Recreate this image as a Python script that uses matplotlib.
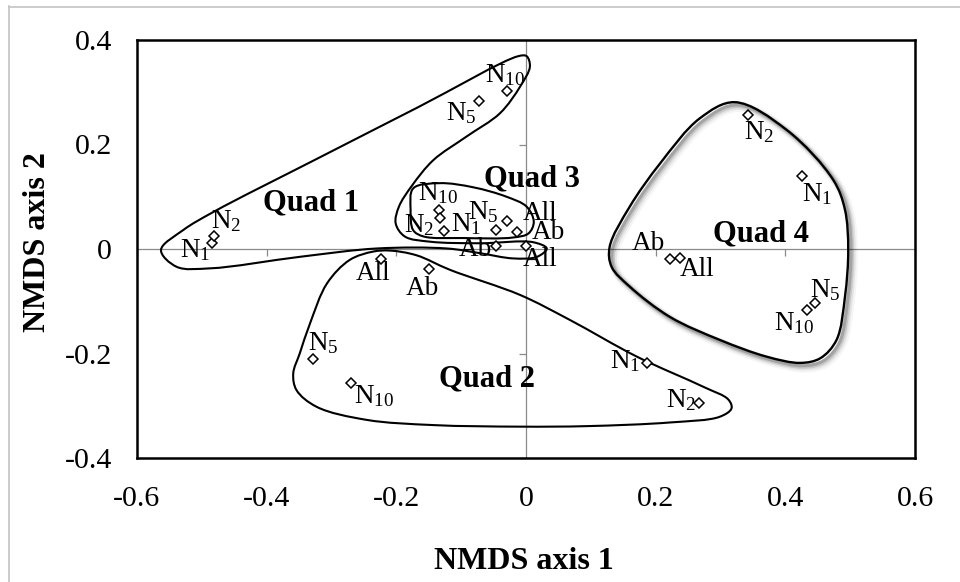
import numpy as np
import matplotlib
matplotlib.use("Agg")
import matplotlib.pyplot as plt
from matplotlib.path import Path
from matplotlib.patches import PathPatch
from matplotlib.lines import Line2D
import matplotlib.transforms as mtransforms

plt.rcParams['font.family'] = ['Liberation Serif', 'DejaVu Serif']
plt.rcParams['mathtext.fontset'] = 'custom'
plt.rcParams['mathtext.rm'] = 'Liberation Serif'
plt.rcParams['mathtext.it'] = 'Liberation Serif:italic'
plt.rcParams['mathtext.bf'] = 'Liberation Serif:bold'

# ---------------- data ----------------
x_ticks = [-0.6, -0.4, -0.2, 0.0, 0.2, 0.4, 0.6]
x_tick_labels = ['-0.6', '-0.4', '-0.2', '0', '0.2', '0.4', '0.6']
y_ticks = [-0.4, -0.2, 0.0, 0.2, 0.4]
y_tick_labels = ['-0.4', '-0.2', '0', '0.2', '0.4']

# point names and NMDS scores per quadrat
quad1_names = ['N1', 'N2', 'N5', 'N10', 'Ab', 'All']
quad1_x = [-0.484, -0.481, -0.073, -0.029, -0.047, 0.000]
quad1_y = [0.012, 0.024, 0.283, 0.302, 0.006, 0.006]

quad3_names = ['N10', 'N2', 'N1', 'N5', 'All', 'Ab']
quad3_x = [-0.134, -0.132, -0.126, -0.047, -0.029, -0.014]
quad3_y = [0.075, 0.059, 0.034, 0.036, 0.054, 0.033]

quad2_names = ['All', 'Ab', 'N5', 'N10', 'N1', 'N2']
quad2_x = [-0.224, -0.149, -0.328, -0.270, 0.186, 0.267]
quad2_y = [-0.020, -0.039, -0.211, -0.257, -0.219, -0.294]

quad4_names = ['N2', 'N1', 'Ab', 'All', 'N5', 'N10']
quad4_x = [0.343, 0.426, 0.222, 0.237, 0.446, 0.433]
quad4_y = [0.257, 0.140, -0.020, -0.018, -0.103, -0.117]

# group titles
group_titles = ['Quad 1', 'Quad 2', 'Quad 3', 'Quad 4']
group_title_x = [-0.331, -0.060, 0.009, 0.362]
group_title_y = [0.089, -0.248, 0.134, 0.029]

# hand-drawn enclosing outlines (control points, data units)
quad1_outline_x = [-0.563, -0.529, -0.482, -0.325, -0.167, -0.012, 0.001, 0.006, -0.009,
                   -0.040, -0.092, -0.143, -0.176, -0.196, -0.201, -0.187, -0.148, -0.071,
                   0.011, 0.032, 0.017, -0.020, -0.071, -0.122, -0.230, -0.349, -0.487, -0.539]
quad1_outline_y = [-0.002, 0.036, 0.071, 0.171, 0.271, 0.369, 0.369, 0.349, 0.311,
                   0.260, 0.215, 0.170, 0.121, 0.081, 0.049, 0.024, 0.014, 0.011,
                   0.013, 0.001, -0.015, -0.018, -0.008, 0.001, 0.001, -0.015, -0.037, -0.034]

quad3_outline_x = [-0.174, -0.133, -0.081, -0.030, 0.001, 0.012, 0.004, -0.020, -0.097,
                   -0.158, -0.174, -0.178]
quad3_outline_y = [0.116, 0.126, 0.118, 0.100, 0.081, 0.052, 0.030, 0.022, 0.021,
                   0.024, 0.036, 0.075]

quad2_outline_x = [-0.236, -0.210, -0.169, -0.117, -0.009, 0.068, 0.171, 0.274, 0.312, 0.317,
                   0.299, 0.222, 0.094, -0.009, -0.143, -0.246, -0.323, -0.354, -0.359,
                   -0.349, -0.333, -0.307, -0.272]
quad2_outline_y = [-0.005, -0.003, -0.012, -0.040, -0.088, -0.136, -0.206, -0.264, -0.288, -0.305,
                   -0.321, -0.332, -0.339, -0.340, -0.337, -0.327, -0.302, -0.270, -0.238,
                   -0.200, -0.142, -0.066, -0.021]

quad4_outline_x = [0.322, 0.402, 0.474, 0.492, 0.497, 0.492, 0.479, 0.454, 0.423, 0.371,
                   0.299, 0.222, 0.160, 0.132, 0.129, 0.160, 0.207, 0.268]
quad4_outline_y = [0.281, 0.228, 0.132, 0.075, -0.002, -0.091, -0.174, -0.209, -0.218, -0.206,
                   -0.174, -0.130, -0.072, -0.034, 0.004, 0.081, 0.164, 0.250]

# label offsets (pixels: right, down) -- layout only
quad1_label_off = [(-17, 7), (12, -15), (-17, 12), (-2, -16), (-20, 4), (14, 14)]
quad3_label_off = [(-1, -17), (-21, 7), (22, -7), (-12, -18), (33, -7), (31, 1)]
quad2_label_off = [(-8, 14), (-7, 19), (10, -16), (23, 13), (-21, -2), (-18, -2)]
quad4_label_off = [(11, 17), (15, 18), (-22, -16), (17, 11), (10, -13), (-13, 13)]

# ---------------- figure ----------------
W, H = 960, 582
fig = plt.figure(figsize=(W / 100, H / 100), dpi=100)
ax = fig.add_axes([137 / W, 1 - 458 / H, (915 - 137) / W, (458 - 40) / H])
ax.set_xlim(-0.6, 0.6)
ax.set_ylim(-0.4, 0.4)

# outer chart border (light gray)
fig.add_artist(Line2D([8.5 / W, 8.5 / W], [0, 1 - 6 / H], color='#c3c3c3', lw=1.2,
                      transform=fig.transFigure))
fig.add_artist(Line2D([8.5 / W, 1], [1 - 6.5 / H, 1 - 6.5 / H], color='#c3c3c3', lw=1.2,
                      transform=fig.transFigure))

for s in ax.spines.values():
    s.set_linewidth(1.8)
    s.set_color('black')

ax.set_xticks(x_ticks)
ax.set_xticklabels(x_tick_labels, fontsize=21.5)
ax.set_yticks(y_ticks)
ax.set_yticklabels(y_tick_labels, fontsize=21.5)
ax.tick_params(axis='both', length=0)
ax.tick_params(axis='x', pad=20)
ax.tick_params(axis='y', pad=18)

# zero axis lines with tick marks
zc = '#8a8a8a'
ax.axhline(0, color=zc, lw=0.9, zorder=1)
ax.axvline(0, color=zc, lw=0.9, zorder=1)
ax.plot(x_ticks, [0] * len(x_ticks), ls='none', marker=3, ms=5, mew=0.9, color=zc, zorder=1,
        clip_on=False)
ax.plot([0] * len(y_ticks), y_ticks, ls='none', marker=0, ms=5, mew=0.9, color=zc, zorder=1,
        clip_on=False)

# pixel scale of the axes (for isotropic spline parameterisation)
SX = (915 - 137) / 1.2
SY = (458 - 40) / 0.8


def closed_bezier_path(xs, ys, alpha=0.5):
    pts = np.column_stack([xs, ys]).astype(float)
    sc = np.array([SX, SY])
    P = pts * sc
    n = len(P)
    verts = [pts[0]]
    codes = [Path.MOVETO]
    for i in range(n):
        p0, p1, p2, p3 = P[(i - 1) % n], P[i], P[(i + 1) % n], P[(i + 2) % n]
        d01 = max(np.linalg.norm(p1 - p0) ** alpha, 1e-6)
        d12 = max(np.linalg.norm(p2 - p1) ** alpha, 1e-6)
        d23 = max(np.linalg.norm(p3 - p2) ** alpha, 1e-6)
        t0, t1 = 0.0, d01
        t2 = t1 + d12
        t3 = t2 + d23
        m1 = (t2 - t1) * ((p1 - p0) / (t1 - t0) - (p2 - p0) / (t2 - t0) + (p2 - p1) / (t2 - t1))
        m2 = (t2 - t1) * ((p2 - p1) / (t2 - t1) - (p3 - p1) / (t3 - t1) + (p3 - p2) / (t3 - t2))
        c1 = (p1 + m1 / 3.0) / sc
        c2 = (p2 - m2 / 3.0) / sc
        verts += [c1, c2, p2 / sc]
        codes += [Path.CURVE4, Path.CURVE4, Path.CURVE4]
    return Path(np.array(verts), codes)


outlines = [(quad1_outline_x, quad1_outline_y, False),
            (quad3_outline_x, quad3_outline_y, False),
            (quad2_outline_x, quad2_outline_y, False),
            (quad4_outline_x, quad4_outline_y, True)]
for ox, oy, shadow in outlines:
    path = closed_bezier_path(ox, oy)
    if shadow:
        for off, lw, a in [(3.5, 7, 0.04), (3.0, 5, 0.07), (2.5, 3.5, 0.12), (2.0, 2.2, 0.18)]:
            tr = ax.transData + mtransforms.ScaledTranslation(off / 72, -off / 72,
                                                               fig.dpi_scale_trans)
            ax.add_patch(PathPatch(path, fill=False, edgecolor='black', lw=lw, alpha=a,
                                   transform=tr, zorder=2))
        ax.add_patch(PathPatch(path, fill=False, edgecolor='black', lw=1.7, zorder=3))
    else:
        ax.add_patch(PathPatch(path, fill=False, edgecolor='black', lw=1.5, zorder=3))

groups = [(quad1_names, quad1_x, quad1_y, quad1_label_off),
          (quad3_names, quad3_x, quad3_y, quad3_label_off),
          (quad2_names, quad2_x, quad2_y, quad2_label_off),
          (quad4_names, quad4_x, quad4_y, quad4_label_off)]


def fmt(name):
    if name.startswith('N'):
        return r'$\mathrm{N}_{\mathrm{%s}}$' % name[1:]
    return name


for names, xs, ys, offs in groups:
    ax.plot(xs, ys, ls='none', marker='D', ms=4.6, mfc='white', mec='black', mew=1.1,
            zorder=5)
    for nm, x, y, (dx, dy) in zip(names, xs, ys, offs):
        ax.annotate(fmt(nm), xy=(x, y), xytext=(dx * 0.72, -dy * 0.72),
                    textcoords='offset points', ha='center', va='center',
                    fontsize=19.5, zorder=6)

for t, x, y in zip(group_titles, group_title_x, group_title_y):
    ax.text(x, y, t, ha='center', va='center', fontsize=22, fontweight='bold', zorder=6)

fig.text(524 / W, 1 - 561.7 / H, 'NMDS axis 1', ha='center', va='center',
         fontsize=23, fontweight='bold')
fig.text(37.5 / W, 1 - 242.5 / H, 'NMDS axis 2', ha='center', va='center',
         fontsize=23, fontweight='bold', rotation=90)

fig.savefig('out.png', dpi=100)
